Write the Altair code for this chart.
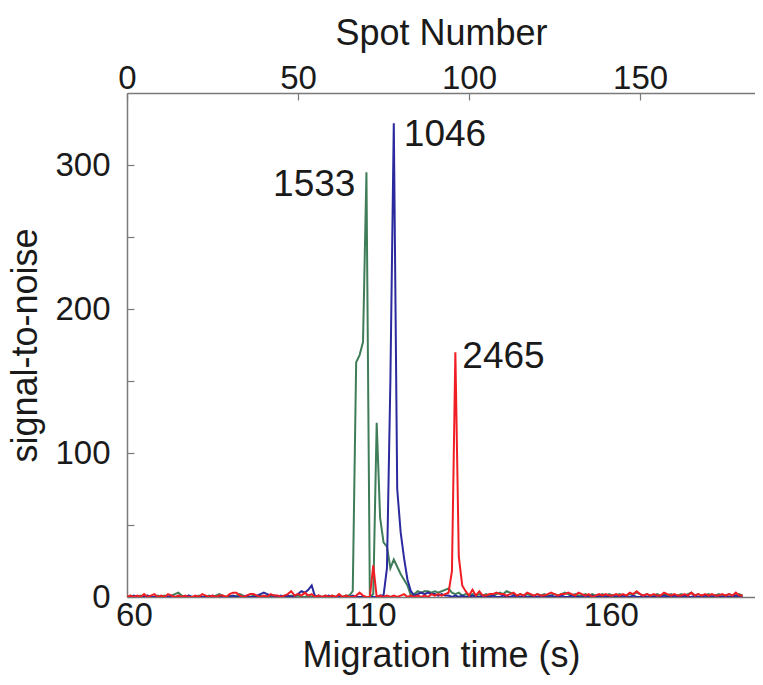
import altair as alt
import pandas as pd

# ---- data ----
spot = list(range(0, 181))

green_1533 = [
    0, 1, 0, 0, 1, 0, 1, 0, 0, 1,
    0, 1, 0, 1, 2, 3, 1, 0, 1, 0,
    0, 1, 0, 0, 1, 0, 1, 2, 1, 0,
    1, 0, 1, 2, 1, 0, 0, 1, 0, 1,
    0, 1, 0, 1, 0, 0, 1, 0, 1, 0,
    1, 0, 0, 1, 0, 1, 0, 0, 1, 0,
    1, 0, 1, 0, 1, 1, 4, 163, 168, 177,
    295, 0, 2, 121, 55, 38, 35, 20, 26, 21,
    16, 12, 8, 1, 2, 4, 3, 4, 4, 3,
    4, 3, 4, 5, 6, 3, 2, 3, 1, 2,
    1, 2, 1, 2, 1, 2, 1, 1, 2, 3,
    2, 4, 3, 2, 1, 2, 1, 2, 1, 1,
    2, 1, 2, 1, 1, 2, 1, 2, 3, 2,
    1, 2, 1, 1, 2, 1, 2, 1, 1, 2,
    1, 2, 1, 1, 2, 1, 1, 2, 2, 3,
    2, 1, 2, 1, 1, 2, 1, 2, 1, 2,
    1, 1, 2, 1, 2, 3, 1, 2, 1, 1,
    2, 1, 1, 2, 1, 1, 2, 1, 1, 2,
    1,
]

blue_1046 = [
    0, 0, 1, 0, 0, 0, 1, 0, 0, 0,
    0, 0, 0, 1, 0, 0, 0, 0, 1, 0,
    0, 0, 0, 0, 0, 1, 0, 0, 0, 0,
    0, 1, 0, 0, 0, 1, 0, 0, 1, 2,
    3, 2, 1, 1, 0, 1, 0, 1, 0, 1,
    2, 4, 3, 5, 8, 0, 1, 0, 0, 1,
    0, 0, 1, 0, 0, 0, 1, 0, 0, 0,
    0, 0, 0, 0, 1, 1, 20, 150, 329, 75,
    45, 27, 12, 4, 1, 2, 3, 2, 3, 2,
    2, 1, 2, 1, 1, 0, 1, 0, 1, 0,
    0, 1, 0, 0, 1, 0, 0, 1, 0, 0,
    1, 0, 0, 1, 0, 0, 1, 0, 0, 0,
    0, 1, 0, 0, 1, 0, 0, 1, 0, 0,
    1, 0, 0, 0, 1, 0, 1, 0, 0, 1,
    0, 0, 1, 0, 0, 1, 0, 0, 1, 0,
    0, 1, 0, 0, 0, 1, 0, 1, 0, 0,
    1, 0, 0, 1, 0, 0, 1, 0, 0, 1,
    0, 0, 1, 0, 0, 1, 0, 0, 1, 0,
    0,
]

red_2465 = [
    0, 1, 0, 1, 0, 2, 0, 1, 2, 0,
    1, 0, 2, 1, 0, 1, 0, 1, 0, 0,
    1, 0, 2, 1, 0, 1, 0, 1, 1, 0,
    2, 3, 3, 1, 0, 1, 2, 2, 1, 0,
    1, 0, 2, 1, 1, 0, 1, 2, 4, 1,
    2, 1, 3, 1, 2, 0, 1, 0, 1, 0,
    1, 0, 2, 0, 1, 0, 0, 1, 3, 1,
    0, 0, 22, 0, 1, 0, 1, 0, 1, 0,
    1, 2, 0, 1, 0, 1, 0, 1, 0, 2,
    1, 2, 1, 2, 3, 18, 170, 28, 8, 4,
    1, 5, 1, 4, 1, 1, 2, 2, 3, 2,
    2, 1, 2, 3, 1, 2, 1, 3, 2, 1,
    2, 1, 1, 2, 3, 2, 1, 2, 2, 3,
    2, 1, 3, 2, 1, 2, 0, 1, 2, 1,
    2, 1, 1, 2, 1, 2, 1, 3, 2, 4,
    2, 1, 2, 1, 2, 1, 1, 3, 2, 1,
    2, 1, 1, 2, 1, 3, 1, 2, 1, 2,
    1, 2, 1, 1, 2, 1, 2, 1, 3, 1,
    1,
]

peak_labels = ["1533", "1046", "2465"]
peak_spot = [70, 78, 96]
peak_value = [295, 329, 170]

spot_ticks = [0, 50, 100, 150]
time_ticks = [60, 110, 160]
y_ticks = [0, 50, 100, 150, 200, 250, 300]

# ---- styling ----
FONT = "Liberation Sans"
GREEN = "#3f7d59"
BLUE = "#2a2a9e"
RED = "#f01e24"
AXIS_GREY = "#7a7a7a"
TEXT = "#1a1a1a"

W, H = 628, 504
SPOT_DOMAIN = [0, 183.6]
TIME_DOMAIN = [59.6, 189.9]
Y_DOMAIN = [0, 350]

x_spot = alt.X(
    "spot:Q",
    scale=alt.Scale(domain=SPOT_DOMAIN, nice=False, zero=False),
    axis=alt.Axis(
        orient="top", values=spot_ticks, title="Spot Number",
        tickSize={"expr": "-7"}, labelPadding=5, labelFlush=False,
        titlePadding=10,
    ),
)
y_val = alt.Y(
    "value:Q",
    scale=alt.Scale(domain=Y_DOMAIN, nice=False),
    axis=alt.Axis(
        values=y_ticks, title="signal-to-noise",
        labelExpr="datum.value % 100 == 0 ? datum.label : ''",
        tickSize={"expr": "-7"}, labelPadding=24, labelFlush=False,
        titlePadding=10,
    ),
)


def series_layer(values, color):
    df = pd.DataFrame({"spot": spot, "value": values})
    return alt.Chart(df).mark_line(color=color, strokeWidth=2, clip=True).encode(
        x=x_spot, y=y_val
    )


def label_layer(i, align, dx, dy):
    df = pd.DataFrame(
        {"spot": [peak_spot[i]], "value": [peak_value[i]], "label": [peak_labels[i]]}
    )
    return alt.Chart(df).mark_text(
        align=align, baseline="middle", dx=dx, dy=dy,
        font=FONT, fontSize=37, color=TEXT,
    ).encode(x=x_spot, y=y_val, text="label:N")


inner = alt.layer(
    series_layer(green_1533, GREEN),
    series_layer(blue_1046, BLUE),
    series_layer(red_2465, RED),
    label_layer(0, "right", -11, 13),
    label_layer(1, "left", 10, 12),
    label_layer(2, "left", 7, 5),
)

time_df = pd.DataFrame({"time": time_ticks})
time_axis = alt.Chart(time_df).mark_point(opacity=0).encode(
    x=alt.X(
        "time:Q",
        scale=alt.Scale(domain=TIME_DOMAIN, nice=False, zero=False),
        axis=alt.Axis(
            orient="bottom", values=time_ticks, title="Migration time (s)",
            ticks=False, labelPadding=2, labelFlush=False, titlePadding=6,
            labelOffset={"condition": {"test": "datum.value == 60", "value": 5}, "value": 0},
        ),
    ),
    y=alt.value(0),
)

chart = (
    alt.layer(inner, time_axis)
    .resolve_scale(x="independent")
    .properties(
        width=W,
        height=H,
        autosize=alt.AutoSizeParams(type="none"),
        padding={"left": 119, "top": 85, "right": 0, "bottom": 80},
    )
    .configure_view(stroke=None)
    .configure_axis(
        grid=False,
        labelFont=FONT, labelFontSize=33, labelColor=TEXT,
        titleFont=FONT, titleFontSize=36, titleFontWeight="normal", titleColor=TEXT,
        domainColor=AXIS_GREY, domainWidth=1.5,
        tickColor=AXIS_GREY, tickWidth=1.2,
    )
)

chart.save("out.html", embed_options={"renderer": "svg", "actions": False})
